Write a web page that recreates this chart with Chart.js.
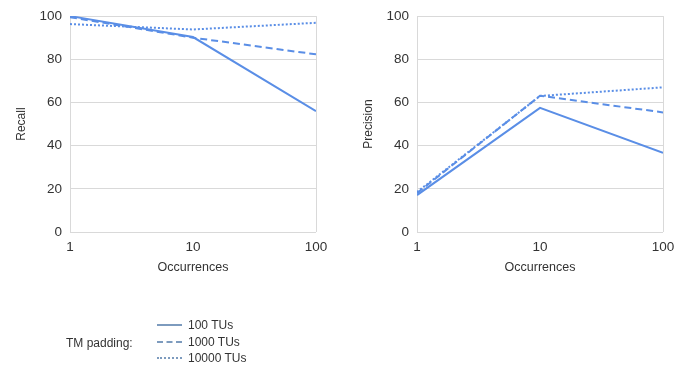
<!DOCTYPE html>
<html>
<head>
<meta charset="utf-8">
<script src="https://cdn.jsdelivr.net/npm/chart.js@4.4.1/dist/chart.umd.min.js"></script>
<style>
  html, body { margin: 0; padding: 0; background: #fff; }
  body { width: 700px; height: 381px; position: relative; overflow: hidden; font-family: "Liberation Sans", Arial, sans-serif; }
  .cw { position: absolute; top: 0; width: 350px; height: 290px; }
  #legend { position: absolute; left: 0; top: 0; width: 700px; height: 381px; pointer-events: none; }
  .lt { position: absolute; font-size: 12px; color: #333; white-space: nowrap; line-height: 14px; }
  .ll { position: absolute; width: 25px; height: 0; }
</style>
</head>
<body>
<div class="cw" style="left:0"><canvas id="c1" width="350" height="290"></canvas></div>
<div class="cw" style="left:347px"><canvas id="c2" width="350" height="290"></canvas></div>
<div id="legend"></div>
<script>
// ---- data ----
const occurrences = [1, 10, 100];
const xTickLabels = ["1", "10", "100"];
const seriesNames = ["100 TUs", "1000 TUs", "10000 TUs"];
const recall100 = [100, 90.3, 56];
const recall1000 = [99.5, 90, 82.3];
const recall10000 = [96.3, 93.8, 96.9];
const precision100 = [17.1, 57.5, 36.7];
const precision1000 = [18, 63.1, 55.4];
const precision10000 = [18.5, 63, 67];
const legendTitle = "TM padding:";

// ---- styles ----
const LINE = "rgb(90,142,230)";
const LEG_LINE = "rgb(125,155,190)";
const GRID = "#d9d9d9";
const TXT = "#333";
const FONT = '"Liberation Sans", Arial, sans-serif';
const dashes = [[], [7, 4], [2, 2]];

function pts(vals) { return occurrences.map((x, i) => ({ x: x, y: vals[i] })); }

function makeChart(id, yTitle, seriesVals) {
  const ds = seriesVals.map((vals, i) => ({
    label: seriesNames[i],
    data: pts(vals),
    borderColor: LINE,
    backgroundColor: LINE,
    borderWidth: 2,
    borderDash: dashes[i],
    pointRadius: 0,
    tension: 0,
    fill: false
  }));
  return new Chart(document.getElementById(id), {
    type: 'line',
    data: { datasets: ds },
    options: {
      responsive: false,
      animation: false,
      events: [],
      layout: { padding: { left: 0, right: 34, top: 16, bottom: 0 } },
      plugins: { legend: { display: false }, tooltip: { enabled: false } },
      scales: {
        x: {
          type: 'logarithmic',
          min: 1, max: 100,
          afterBuildTicks: (s) => { s.ticks = occurrences.map(v => ({ value: v })); },
          afterFit: (s) => { s.height = 58; },
          ticks: {
            autoSkip: false, maxRotation: 0,
            padding: 7,
            color: TXT,
            font: { family: FONT, size: 13.5 },
            callback: (v, i) => xTickLabels[i]
          },
          grid: {
            drawTicks: false,
            color: (c) => (c.tick && c.tick.value === 10) ? 'rgba(0,0,0,0)' : GRID,
            lineWidth: 1
          },
          border: { display: false },
          title: {
            display: true, text: 'Occurrences', color: TXT,
            font: { family: FONT, size: 12.5 },
            padding: { top: 0, bottom: 15 }
          }
        },
        y: {
          min: 0, max: 100,
          afterFit: (s) => { s.width = 70; },
          ticks: {
            stepSize: 20, padding: 8, color: TXT,
            font: { family: FONT, size: 13.5 }
          },
          grid: { drawTicks: false, color: GRID, lineWidth: 1 },
          border: { display: false },
          title: {
            display: true, text: yTitle, color: TXT,
            font: { family: FONT, size: 12 },
            padding: { top: 14, bottom: 0 }
          }
        }
      }
    }
  });
}

makeChart('c1', 'Recall', [recall100, recall1000, recall10000]);
makeChart('c2', 'Precision', [precision100, precision1000, precision10000]);

// ---- legend ----
const lg = document.getElementById('legend');
const t = document.createElement('div');
t.className = 'lt';
t.style.left = '66px'; t.style.top = '336px';
t.textContent = legendTitle;
lg.appendChild(t);
const rowsY = [325, 341.5, 358];
const borderStyles = ['solid', 'dashed', 'dotted'];
seriesNames.forEach((name, i) => {
  const l = document.createElement('div');
  l.className = 'll';
  l.style.left = '157px';
  l.style.top = (rowsY[i] - 1) + 'px';
  l.style.borderTop = '2px ' + borderStyles[i] + ' ' + LEG_LINE;
  lg.appendChild(l);
  const tx = document.createElement('div');
  tx.className = 'lt';
  tx.style.left = '188px';
  tx.style.top = (rowsY[i] - 7) + 'px';
  tx.textContent = name;
  lg.appendChild(tx);
});
</script>
</body>
</html>
